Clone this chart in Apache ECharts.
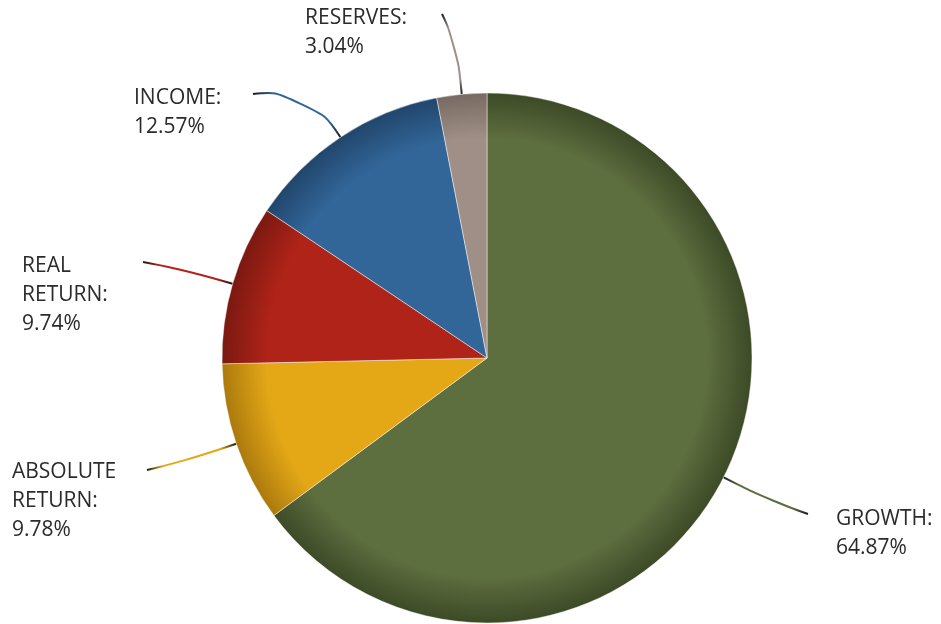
<!DOCTYPE html>
<html>
<head>
<meta charset="utf-8">
<script src="https://cdn.jsdelivr.net/npm/echarts@6/dist/echarts.min.js"></script>
<style>
html,body{margin:0;padding:0;background:#fff;}
#chart{width:941px;height:624px;}
</style>
</head>
<body>
<div id="chart"></div>
<script>
// ---- data ----
const categories = ['GROWTH', 'ABSOLUTE\nRETURN', 'REAL\nRETURN', 'INCOME', 'RESERVES'];
const values = [64.87, 9.78, 9.74, 12.57, 3.04];

// ---- styles ----
const colors = ['#5d6e3f', '#e4a817', '#b02318', '#326699', '#9f8f86'];
const rimColors = ['#3d4a27', '#ab7a0d', '#7a1911', '#21466c', '#786a62'];
// label anchor (line end) and text top-left position, per slice
const labelEnds = [[808, 514], [147, 470], [143, 262], [253, 94], [442, 14]];
const labelText = [[836, 505], [12, 458], [22, 252], [134, 84], [305, 4]];
const labelAlign = ['left', 'left', 'left', 'left', 'left'];

const CX = 487, CY = 358, R = 265;

function rimGradient(i) {
  return new echarts.graphic.RadialGradient(CX, CY, R, [
    { offset: 0, color: colors[i] },
    { offset: 0.83, color: colors[i] },
    { offset: 1, color: rimColors[i] }
  ], true);
}

function midPoint(i) {
  let acc = 0;
  for (let j = 0; j < i; j++) acc += values[j];
  const tot = values.reduce((a, b) => a + b, 0);
  const mid = (acc + values[i] / 2) / tot * Math.PI * 2;
  return [CX + R * Math.sin(mid), CY - R * Math.cos(mid)];
}

// gradient colouring of leader lines (dark ends, slice colour in between)
function lineGrad(i) {
  const s = midPoint(i), e = labelEnds[i];
  return new echarts.graphic.LinearGradient(s[0], s[1], e[0], e[1], [
    { offset: 0, color: '#1a1a1a' },
    { offset: 0.18, color: colors[i] },
    { offset: 0.82, color: colors[i] },
    { offset: 1, color: '#1a1a1a' }
  ], true);
}

const data = categories.map((c, i) => ({
  name: c,
  value: values[i],
  itemStyle: { color: rimGradient(i) },
  labelLine: { lineStyle: { color: lineGrad(i) } }
}));

const chart = echarts.init(document.getElementById('chart'), null, { renderer: 'canvas' });

chart.setOption({
  animation: false,
  backgroundColor: '#ffffff',
  series: [{
    type: 'pie',
    center: [CX, CY],
    radius: [0, R],
    startAngle: 90,
    clockwise: true,
    data: data,
    itemStyle: { borderColor: 'rgba(255,255,255,0.45)', borderWidth: 1 },
    label: {
      show: true,
      formatter: function (p) { return p.name + ':\n' + p.value.toFixed(2) + '%'; },
      fontFamily: 'Open Sans',
      fontSize: 21,
      lineHeight: 29,
      color: '#2b2b2b'
    },
    labelLine: {
      show: true,
      length: 60,
      length2: 10,
      smooth: 0.6,
      lineStyle: { width: 2 }
    },
    labelLayout: function (p) {
      const i = p.dataIndex;
      const s = p.labelLinePoints ? p.labelLinePoints[0] : midPoint(i);
      const e = labelEnds[i];
      const dx = s[0] - CX, dy = s[1] - CY;
      const len = Math.sqrt(dx * dx + dy * dy) || 1;
      const dist = Math.sqrt((e[0] - s[0]) ** 2 + (e[1] - s[1]) ** 2);
      const k = dist * 0.6;
      const m = [s[0] + dx / len * k, s[1] + dy / len * k];
      return {
        x: labelText[i][0],
        y: labelText[i][1],
        align: labelAlign[i],
        verticalAlign: 'top',
        labelLinePoints: [s, m, e]
      };
    }
  }]
});
</script>
</body>
</html>
